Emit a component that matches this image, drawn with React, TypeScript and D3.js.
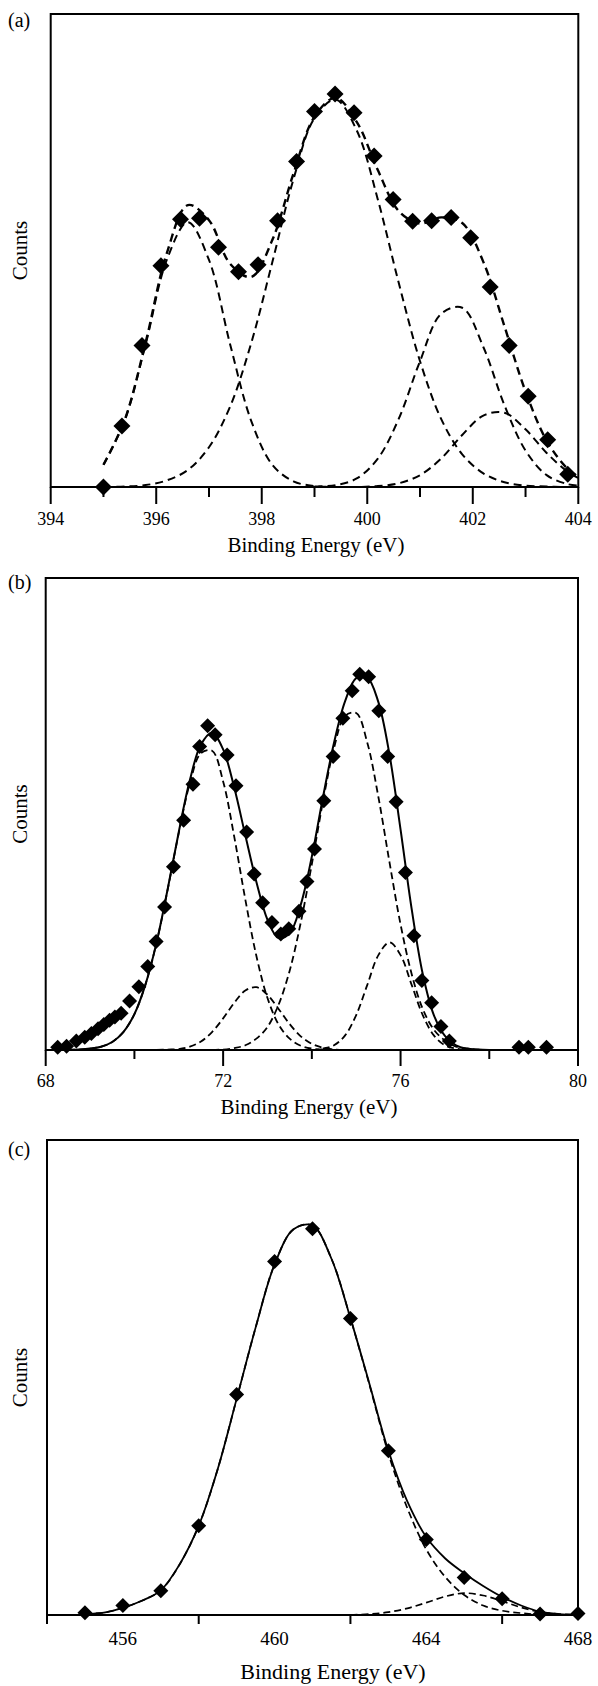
import * as d3 from 'd3'

// ---------- (a) 394-404 eV ----------
const aTicksMajor = [394, 396, 398, 400, 402, 404]
const aTicksMinor = [395, 397, 399, 401, 403]
const aLabels = [394, 396, 398, 400, 402, 404]

const aDotsX = [395.0, 395.35, 395.73, 396.09, 396.46, 396.82, 397.18, 397.56, 397.93, 398.30, 398.66, 399.00, 399.39, 399.75, 400.13, 400.49, 400.86, 401.22, 401.59, 401.96, 402.33, 402.69, 403.05, 403.42, 403.80]
const aDotsY = [0, 12.9, 29.9, 46.8, 56.6, 56.8, 50.7, 45.5, 47.0, 56.3, 68.8, 79.4, 83.1, 79.1, 70.0, 60.8, 56.2, 56.3, 57.0, 52.7, 42.3, 29.9, 19.2, 10.0, 2.7]

const aFitX = [395.0, 395.4, 395.8, 396.2, 396.6, 397.0, 397.4, 397.8, 398.2, 398.6, 399.0, 399.4, 399.8, 400.2, 400.6, 401.0, 401.4, 401.8, 402.2, 402.6, 403.0, 403.4, 403.8, 404.0]
const aEnvelope = [4.7, 14.1, 30.6, 49.4, 59.6, 56.4, 47.2, 44.4, 52.2, 66.2, 78.3, 82.3, 77.2, 67.0, 58.3, 55.7, 57.0, 55.8, 47.6, 34.0, 20.2, 9.8, 3.8, 2.2]
const aPeak1 = [4.7, 14.0, 30.2, 48.0, 56.0, 48.0, 30.2, 14.0, 4.7, 1.2, 0.2, 0.0, ...Array(12).fill(null)]
const aPeak2 = [0.0, 0.1, 0.4, 1.4, 3.6, 8.4, 17.0, 30.4, 47.5, 65.0, 78.0, 81.9, 75.4, 60.8, 43.0, 26.6, 14.4, 6.9, 2.9, 1.0, 0.3, 0.1, 0.0, 0.0]
const aPeak3 = [...Array(10).fill(null), 0.1, 0.4, 1.8, 6.0, 14.5, 26.6, 36.6, 37.9, 29.6, 17.3, 7.7, 2.5, 0.6, 0.3]
const aPeak4 = [...Array(11).fill(null), 0.0, 0.0, 0.2, 0.8, 2.5, 6.0, 11.0, 15.1, 15.7, 12.2, 7.2, 3.2, 1.9]

// ---------- (b) 68-80 eV ----------
const bTicksMajor = [68, 72, 76, 80]
const bTicksMinor = [70, 74, 78]
const bLabels = [68, 72, 76, 80]

const bDotsX = [68.27, 68.47, 68.69, 68.88, 69.03, 69.18, 69.31, 69.44, 69.56, 69.70, 69.89, 70.10, 70.30, 70.49, 70.68, 70.88, 71.11, 71.32, 71.47, 71.65, 71.82, 72.09, 72.29, 72.53, 72.70, 72.89, 73.10, 73.30, 73.48, 73.71, 73.89, 74.06, 74.27, 74.48, 74.70, 74.91, 75.08, 75.28, 75.51, 75.71, 75.90, 76.11, 76.30, 76.48, 76.70, 76.91, 77.10, 78.67, 78.88, 79.29]
const bDotsY = [0.6, 0.8, 1.9, 2.7, 3.5, 4.5, 5.4, 6.3, 7.0, 7.8, 10.4, 13.4, 17.7, 23.0, 30.3, 38.8, 48.7, 56.3, 64.3, 68.7, 66.8, 62.5, 56.0, 46.2, 37.3, 31.2, 27.0, 24.6, 25.7, 29.4, 35.7, 42.6, 52.8, 62.2, 70.3, 76.1, 79.6, 79.1, 71.9, 62.2, 52.6, 37.6, 24.2, 14.7, 10.0, 5.0, 1.9, 0.6, 0.6, 0.6]

const bFitX = [68.5, 68.75, 69.0, 69.25, 69.5, 69.75, 70.0, 70.25, 70.5, 70.75, 71.0, 71.25, 71.5, 71.75, 72.0, 72.25, 72.5, 72.75, 73.0, 73.25, 73.5, 73.75, 74.0, 74.25, 74.5, 74.75, 75.0, 75.25, 75.5, 75.75, 76.0, 76.25, 76.5, 76.75, 77.0, 77.25, 77.5, 77.75, 78.0]
const bEnvelope = [0.0, 0.1, 0.3, 0.7, 1.7, 3.8, 7.6, 13.9, 22.8, 34.1, 46.2, 57.2, 64.7, 67.2, 63.7, 55.6, 45.5, 35.6, 27.6, 23.7, 24.7, 30.8, 41.0, 53.5, 65.1, 73.9, 78.8, 78.9, 73.7, 62.6, 46.7, 29.9, 16.1, 7.4, 3.0, 1.0, 0.3, 0.1, 0.0]
const bPeak1 = [0.0, 0.1, 0.3, 0.7, 1.7, 3.8, 7.6, 13.9, 22.8, 34.0, 46.0, 56.5, 62.9, 63.4, 56.9, 45.2, 31.9, 19.9, 11.0, 5.4, 2.4, 0.9, 0.3, 0.1, 0.0, ...Array(14).fill(null)]
const bPeak2 = [...Array(8).fill(null), 0.0, 0.1, 0.2, 0.7, 1.8, 3.8, 6.7, 10.0, 12.6, 13.3, 11.7, 8.7, 5.5, 2.9, 1.3, 0.5, 0.1, 0.0, ...Array(13).fill(null)]
const bPeak3 = [...Array(13).fill(null), 0.0, 0.1, 0.4, 1.0, 2.4, 4.9, 9.6, 16.8, 27.0, 39.4, 52.6, 64.0, 70.8, 71.4, 65.1, 53.6, 39.8, 26.6, 16.1, 8.7, 4.3, 2.0, 0.7, 0.3, 0.1, 0.0]
const bPeak4 = [...Array(21).fill(null), 0.0, 0.0, 0.3, 1.0, 3.1, 7.4, 13.8, 20.1, 22.8, 20.1, 13.8, 7.4, 3.1, 1.0, 0.3, 0.0, 0.0, 0.0]

// ---------- (c) 454-468 eV ----------
const cTicks = [454, 458, 462, 466]
const cLabels = [456, 460, 464, 468]

const cDotsX = [455, 456, 457, 458, 459, 460, 461, 462, 463, 464, 465, 466, 467, 468]
const cDotsY = [0.5, 2.0, 5.1, 18.8, 46.4, 74.4, 81.3, 62.4, 34.6, 15.9, 7.9, 3.4, 0.2, 0.3]

const cFitX = [455.0, 455.5, 456.0, 456.5, 457.0, 457.5, 458.0, 458.5, 459.0, 459.5, 460.0, 460.5, 461.0, 461.5, 462.0, 462.5, 463.0, 463.5, 464.0, 464.5, 465.0, 465.5, 466.0, 466.5, 467.0, 467.5, 468.0]
const cEnvelope = [0.2, 0.5, 1.5, 3.0, 5.2, 10.7, 18.8, 30.7, 45.5, 60.5, 73.8, 81.2, 82.0, 75.0, 62.5, 48.7, 34.6, 23.9, 16.4, 11.9, 8.8, 6.1, 3.8, 2.0, 0.7, 0.2, 0.05]
const cMain = [0.2, 0.5, 1.5, 3.0, 5.2, 10.7, 18.8, 30.7, 45.5, 60.5, 73.8, 81.2, 82.0, 75.0, 62.5, 48.5, 34.0, 22.5, 13.8, 8.0, 4.2, 2.0, 0.9, 0.4, 0.1, 0.0, 0.0]
const cSmall = [...Array(14).fill(null), 0.0, 0.2, 0.6, 1.4, 2.6, 3.9, 4.6, 4.1, 2.9, 1.6, 0.6, 0.2, 0.05]

const FONT = "'Liberation Serif', 'DejaVu Serif', serif"

type Series = { values: (number | null)[]; dash: boolean; width: number }

type PanelProps = {
  tag: string
  left: number; right: number; top: number; bottom: number
  xDomain: [number, number]
  majors: number[]; minors: number[]; labels: number[]
  majorLen: number; minorLen: number
  labelY: number; labelSize: number
  titleX: number; titleY: number; titleSize: number
  tagY: number
  fitX: number[]
  series: Series[]
  dotsX: number[]; dotsY: number[]; dotR: number
  dashArray: string
}

function Panel(p: PanelProps) {
  const x = d3.scaleLinear().domain(p.xDomain).range([p.left, p.right])
  const y = d3.scaleLinear().domain([0, 100]).range([p.bottom, p.top])

  const line = d3.line<[number, number | null]>()
    .defined(d => d[1] != null)
    .x(d => x(d[0]))
    .y(d => y(d[1] as number))
    .curve(d3.curveCatmullRom.alpha(0.5))

  // square turned 45 degrees, like the spreadsheet marker
  const diamondType = {
    draw(ctx: any, size: number) {
      const r = Math.sqrt(size)
      ctx.moveTo(0, -r); ctx.lineTo(r, 0); ctx.lineTo(0, r); ctx.lineTo(-r, 0); ctx.closePath()
    }
  }
  const diamond = d3.symbol().type(diamondType as any).size(p.dotR * p.dotR)()

  return (
    <g style={{ fontFamily: FONT }}>
      <text x={8} y={p.tagY} fontSize={20}>{p.tag}</text>
      <rect x={p.left} y={p.top} width={p.right - p.left} height={p.bottom - p.top}
        fill="none" stroke="#000" strokeWidth={2} />
      {p.majors.map(t => (
        <line key={'M' + t} x1={x(t)} x2={x(t)} y1={p.bottom} y2={p.bottom + p.majorLen} stroke="#000" strokeWidth={2} />
      ))}
      {p.minors.map(t => (
        <line key={'m' + t} x1={x(t)} x2={x(t)} y1={p.bottom} y2={p.bottom + p.minorLen} stroke="#000" strokeWidth={2} />
      ))}
      {p.labels.map(t => (
        <text key={'l' + t} x={x(t)} y={p.labelY} textAnchor="middle" fontSize={p.labelSize}>{t}</text>
      ))}
      <text x={p.titleX} y={p.titleY} textAnchor="middle" fontSize={p.titleSize}>Binding Energy (eV)</text>
      <text transform={`translate(27,${(p.top + p.bottom) / 2}) rotate(-90)`} textAnchor="middle"
        fontSize={21}>Counts</text>
      {p.series.map((s, i) => (
        <path key={'s' + i}
          d={line(p.fitX.map((v, j) => [v, s.values[j]] as [number, number | null])) || ''}
          fill="none" stroke="#000" strokeWidth={s.width}
          strokeDasharray={s.dash ? p.dashArray : undefined} />
      ))}
      {p.dotsX.map((v, i) => (
        <path key={'d' + i} d={diamond || ''} transform={`translate(${x(v)},${y(p.dotsY[i])})`} fill="#000" />
      ))}
    </g>
  )
}

export default function App() {
  return (
    <div style={{ position: 'absolute', left: 0, top: 0 }}>
      <svg width={598} height={1686} style={{ display: 'block', background: '#fff' }}>
        <Panel tag="(a)" left={50.7} right={578.3} top={14} bottom={487} xDomain={[394, 404]}
          majors={aTicksMajor} minors={aTicksMinor} labels={aLabels} majorLen={17} minorLen={10}
          labelY={525} labelSize={18} titleX={316} titleY={552} titleSize={21} tagY={27}
          fitX={aFitX}
          series={[
            { values: aPeak1, dash: true, width: 2 },
            { values: aPeak2, dash: true, width: 2 },
            { values: aPeak3, dash: true, width: 2 },
            { values: aPeak4, dash: true, width: 2 },
            { values: aEnvelope, dash: true, width: 2.4 },
          ]}
          dotsX={aDotsX} dotsY={aDotsY} dotR={8.5} dashArray="8 5" />
        <Panel tag="(b)" left={45.7} right={578} top={578} bottom={1050} xDomain={[68, 80]}
          majors={bTicksMajor} minors={bTicksMinor} labels={bLabels} majorLen={16} minorLen={9}
          labelY={1087} labelSize={18} titleX={309} titleY={1114} titleSize={21} tagY={589}
          fitX={bFitX}
          series={[
            { values: bPeak1, dash: true, width: 1.8 },
            { values: bPeak2, dash: true, width: 1.8 },
            { values: bPeak3, dash: true, width: 1.8 },
            { values: bPeak4, dash: true, width: 1.8 },
            { values: bEnvelope, dash: false, width: 2 },
          ]}
          dotsX={bDotsX} dotsY={bDotsY} dotR={7.5} dashArray="7 4" />
        <Panel tag="(c)" left={47} right={578} top={1140} bottom={1615} xDomain={[454, 468]}
          majors={cTicks} minors={[]} labels={cLabels} majorLen={9} minorLen={0}
          labelY={1645} labelSize={19} titleX={333} titleY={1679} titleSize={22} tagY={1156}
          fitX={cFitX}
          series={[
            { values: cMain, dash: true, width: 1.7 },
            { values: cSmall, dash: true, width: 1.7 },
            { values: cEnvelope, dash: false, width: 1.8 },
          ]}
          dotsX={cDotsX} dotsY={cDotsY} dotR={7.5} dashArray="7 4" />
      </svg>
    </div>
  )
}
